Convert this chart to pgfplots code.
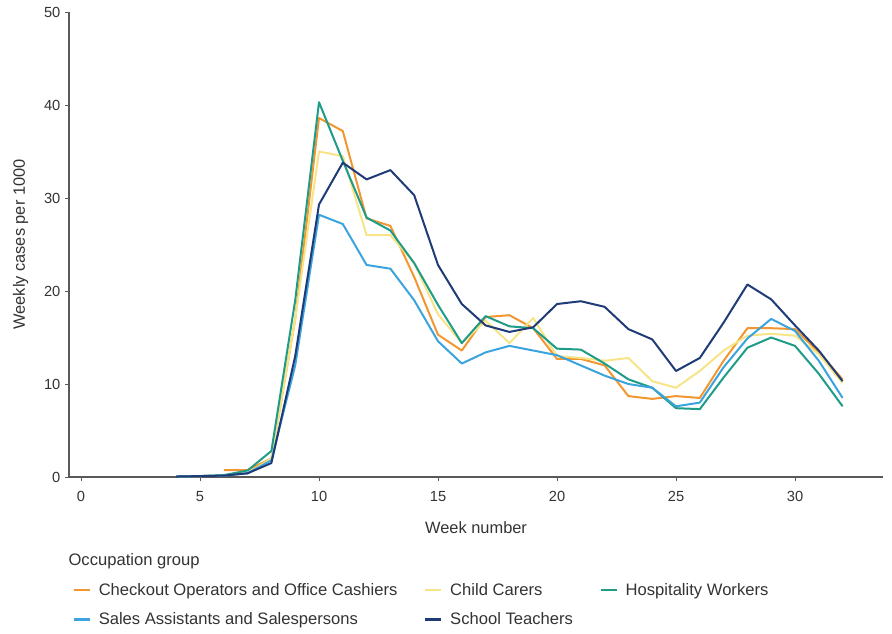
\documentclass[border=0pt]{standalone}
\usepackage{pgfplots}
\pgfplotsset{compat=1.18}
\usepackage{fontspec}
\setmainfont{Liberation Sans}
\definecolor{cOrange}{HTML}{F3962F}
\definecolor{cYellow}{HTML}{F6E487}
\definecolor{cTeal}{HTML}{1E9C88}
\definecolor{cBlue}{HTML}{3BA3DD}
\definecolor{cNavy}{HTML}{1F3B78}
\definecolor{cText}{HTML}{333333}
\begin{document}
\begin{tikzpicture}
\begin{axis}[
  anchor=origin, at={(0pt,0pt)},
  x=17.85pt, y=6.975pt,
  xmin=-0.5, xmax=33.7, ymin=0, ymax=50,
  axis lines=left,
  axis line style={-, draw=black!65, line width=0.9pt},
  xtick={0,5,...,30}, ytick={0,10,...,50},
  tick style={draw=black!65, line width=0.6pt},
  tick align=outside, major tick length=3pt,
  /pgf/number format/assume math mode=true,
  ticklabel style={font=\fontsize{11}{13}\selectfont, text=cText},
  xticklabel style={yshift=-4pt},
  xlabel={Week number}, ylabel={Weekly cases per 1000},
  label style={font=\fontsize{12.3}{14}\selectfont, text=cText},
  xlabel style={yshift=-8pt},
  ylabel style={yshift=5pt},
  clip=false,
  legend columns=3,
  legend style={draw=none, fill=none, at={(0.004,-0.222)}, anchor=north west,
    font=\fontsize{12.45}{15}\selectfont, text=cText,
    /tikz/every even column/.append style={column sep=18pt},
    /tikz/every odd column/.append style={column sep=4pt},
    row sep=7.5pt, inner sep=0pt},
  legend cell align=left,
  legend image code/.code={\draw[#1, line width=1.6pt] (0pt,0pt) -- (12pt,0pt);},
  every axis plot/.append style={line width=1.5pt, line join=round},
]
\addplot[cOrange] coordinates {(6,0.75)(7,0.75)(8,2.0)(9,17)(10,38.6)(11,37.2)(12,27.8)(13,27.0)(14,21.5)(15,15.3)(16,13.6)(17,17.2)(18,17.4)(19,16.0)(20,12.7)(21,12.7)(22,12.0)(23,8.7)(24,8.4)(25,8.7)(26,8.5)(27,12.5)(28,16.0)(29,16.0)(30,15.9)(31,13.4)(32,10.5)};
\addlegendentry{Checkout Operators and Office Cashiers}
\addplot[cYellow] coordinates {(4,0.05)(5,0.1)(6,0.2)(7,0.4)(8,2.0)(9,17)(10,35.0)(11,34.5)(12,26.0)(13,26.0)(14,23.0)(15,17.5)(16,14.4)(17,16.8)(18,14.4)(19,17.1)(20,13.0)(21,12.8)(22,12.5)(23,12.8)(24,10.3)(25,9.6)(26,11.4)(27,13.6)(28,15.2)(29,15.4)(30,15.2)(31,13.2)(32,10.1)};
\addlegendentry{Child Carers}
\addplot[cTeal] coordinates {(4,0.05)(5,0.1)(6,0.2)(7,0.7)(8,2.8)(9,19)(10,40.3)(11,34.0)(12,27.9)(13,26.5)(14,23.0)(15,18.5)(16,14.4)(17,17.3)(18,16.2)(19,16.0)(20,13.8)(21,13.7)(22,12.2)(23,10.5)(24,9.6)(25,7.4)(26,7.3)(27,10.7)(28,13.9)(29,15.0)(30,14.1)(31,11.1)(32,7.6)};
\addlegendentry{Hospitality Workers}
\addplot[cBlue] coordinates {(4,0.05)(5,0.1)(6,0.15)(7,0.4)(8,1.8)(9,12)(10,28.2)(11,27.2)(12,22.8)(13,22.4)(14,19.0)(15,14.6)(16,12.2)(17,13.4)(18,14.1)(19,13.6)(20,13.1)(21,12.0)(22,10.9)(23,10.0)(24,9.6)(25,7.6)(26,8.0)(27,11.8)(28,14.9)(29,17.0)(30,15.7)(31,12.5)(32,8.5)};
\addlegendentry{Sales Assistants and Salespersons}
\addplot[cNavy] coordinates {(4,0.05)(5,0.1)(6,0.15)(7,0.4)(8,1.5)(9,13)(10,29.3)(11,33.8)(12,32.0)(13,33.0)(14,30.3)(15,22.8)(16,18.6)(17,16.3)(18,15.6)(19,16.1)(20,18.6)(21,18.9)(22,18.3)(23,15.9)(24,14.8)(25,11.4)(26,12.8)(27,16.6)(28,20.7)(29,19.1)(30,16.3)(31,13.6)(32,10.3)};
\addlegendentry{School Teachers}
\node[anchor=west, font=\fontsize{12.45}{15}\selectfont, text=cText, inner sep=0pt] at (rel axis cs:-0.001,-0.182) {Occupation group};
\end{axis}
\useasboundingbox (-60.75pt,-117pt) rectangle (608.25pt,357.75pt);
\end{tikzpicture}
\end{document}
